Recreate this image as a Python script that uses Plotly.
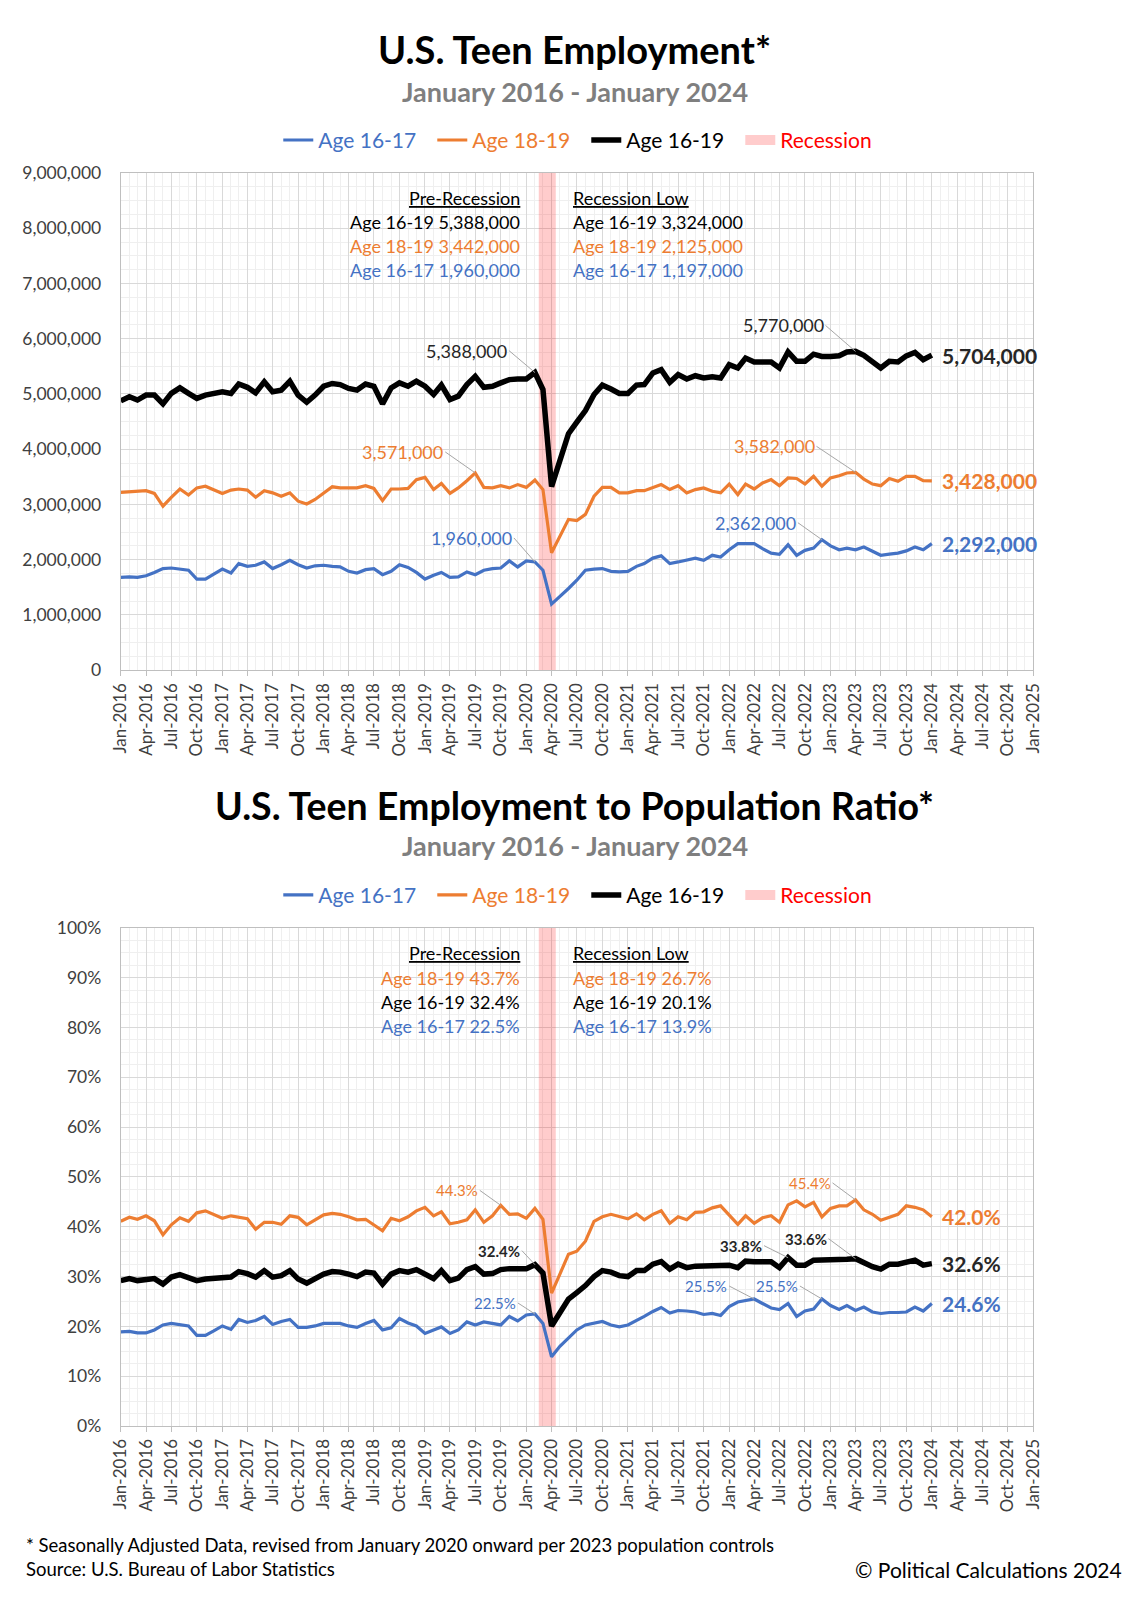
import pandas as pd
import plotly.graph_objects as go

# ---------------- data ----------------
months = pd.date_range("2016-01-01", periods=97, freq="MS")
month_labels = [d.strftime("%b-%Y") for d in months]

# Employment, thousands
emp_16_19 = [4875, 4950, 4890, 4980, 4980, 4820, 5010, 5110, 5010, 4920,
             4980, 5000, 5040, 5010, 5180, 5120, 5020, 5220, 5040, 5070,
             5230, 4980, 4850, 4980, 5140, 5190, 5170, 5100, 5070, 5180,
             5140, 4820, 5110, 5200, 5140, 5230, 5140, 4990, 5160, 4900,
             4960, 5170, 5320, 5120, 5140, 5200, 5260, 5270, 5270,
             5388, 5080, 3324, 3800,
             4280, 4490, 4700, 4990, 5160, 5090, 5010, 5010, 5160, 5170,
             5380, 5440, 5210, 5350, 5270, 5330, 5290, 5310, 5290, 5530,
             5470, 5650, 5580, 5580, 5580, 5470, 5760, 5590, 5590, 5720,
             5680, 5680, 5690, 5760, 5770, 5700, 5590, 5470, 5590, 5580,
             5690, 5750, 5620, 5704]
emp_18_19 = [3220, 3230, 3230, 3250, 3200, 2970, 3130, 3280, 3170, 3300,
             3330, 3270, 3200, 3260, 3280, 3260, 3130, 3250, 3210, 3150,
             3210, 3060, 3010, 3090, 3200, 3320, 3300, 3300, 3300, 3340,
             3290, 3070, 3280, 3280, 3290, 3450, 3490, 3270, 3380, 3200,
             3300, 3430, 3571, 3310, 3300, 3340, 3300, 3360, 3310,
             3442, 3270, 2125,
             2430, 2730, 2710, 2820, 3150, 3310, 3310, 3210, 3210, 3250,
             3250, 3310, 3360, 3270, 3340, 3210, 3270, 3300, 3240, 3210,
             3370, 3180, 3370, 3280, 3390, 3450, 3340, 3480, 3470, 3370,
             3510, 3330, 3480, 3520, 3570, 3582, 3460, 3370, 3340, 3470,
             3420, 3510, 3510, 3430, 3428]
emp_16_17 = [1680, 1690, 1680, 1710, 1770, 1840, 1850, 1830, 1810, 1650,
             1650, 1740, 1830, 1760, 1930, 1880, 1900, 1960, 1840, 1910,
             1990, 1910, 1850, 1890, 1900, 1880, 1870, 1790, 1760, 1820,
             1840, 1730, 1790, 1910, 1860, 1770, 1650, 1720, 1770, 1680,
             1690, 1780, 1730, 1810, 1840, 1850, 1980, 1870, 1980,
             1960, 1810, 1197,
             1330, 1480, 1630, 1810, 1830, 1840, 1790, 1780, 1790, 1880,
             1930, 2030, 2070, 1930, 1960, 1990, 2030, 1990, 2080, 2050,
             2180, 2290, 2290, 2290, 2200, 2120, 2100, 2270, 2080, 2170,
             2210, 2362, 2250, 2180, 2210, 2180, 2230, 2150, 2080, 2100,
             2120, 2160, 2230, 2180, 2292]

# Employment-population ratio, percent
epr_18_19 = [41.1, 41.9, 41.5, 42.2, 41.2, 38.4, 40.4, 41.8, 41.1, 42.8,
             43.2, 42.5, 41.7, 42.2, 41.9, 41.6, 39.5, 40.9, 40.9, 40.5,
             42.2, 41.9, 40.4, 41.4, 42.4, 42.7, 42.5, 42.0, 41.4, 41.5,
             40.4, 39.2, 41.7, 41.2, 42.0, 43.2, 43.9, 42.2, 43.0, 40.6,
             40.9, 41.4, 43.4, 40.9, 42.2, 44.3, 42.5, 42.6, 41.7,
             43.7, 41.5, 26.7,
             30.5, 34.5, 35.1, 37.1, 41.1, 42.0, 42.5, 42.0, 41.6, 42.6,
             41.4, 42.5, 43.2, 40.7, 42.0, 41.4, 42.9, 43.0, 43.8, 44.2,
             42.4, 40.5, 42.2, 40.7, 41.8, 42.2, 40.9, 44.4, 45.2, 44.0,
             44.9, 42.0, 43.7, 44.2, 44.2, 45.4, 43.4, 42.5, 41.3, 41.9,
             42.5, 44.2, 43.9, 43.4, 42.0]
epr_16_19 = [29.2, 29.6, 29.2, 29.5, 29.6, 28.5, 29.9, 30.4, 29.7, 29.2,
             29.5, 29.6, 29.9, 29.9, 31.0, 30.6, 29.9, 31.2, 29.9, 30.2,
             31.2, 29.5, 28.7, 29.6, 30.5, 31.0, 30.9, 30.5, 30.0, 30.9,
             30.7, 28.5, 30.5, 31.2, 30.9, 31.4, 30.6, 29.6, 31.2, 29.2,
             29.7, 31.4, 32.0, 30.5, 30.6, 31.4, 31.6, 31.5, 31.6,
             32.4, 30.7, 20.1,
             22.6, 25.5, 26.8, 28.2, 30.0, 31.2, 30.9, 30.2, 30.0, 31.2,
             31.2, 32.5, 33.0, 31.5, 32.5, 31.8, 32.1, 32.1, 32.1, 32.1,
             32.3, 31.8, 33.1, 33.0, 33.0, 33.0, 31.8, 33.8, 32.3, 32.3,
             33.3, 33.3, 33.3, 33.3, 33.5, 33.6, 32.8, 32.0, 31.5, 32.5,
             32.5, 32.9, 33.3, 32.3, 32.6]
epr_16_17 = [18.9, 19.0, 18.7, 18.7, 19.3, 20.3, 20.6, 20.3, 20.1, 18.2,
             18.2, 19.1, 20.1, 19.4, 21.4, 20.8, 21.2, 22.0, 20.4, 21.0,
             21.4, 19.8, 19.8, 20.1, 20.6, 20.6, 20.6, 20.1, 19.8, 20.6,
             21.2, 19.3, 19.7, 21.6, 20.7, 20.1, 18.6, 19.3, 19.9, 18.6,
             19.3, 20.9, 20.3, 20.9, 20.6, 20.3, 22.0, 21.1, 22.3,
             22.5, 20.6, 13.9,
             16.0, 17.6, 19.3, 20.3, 20.6, 21.0, 20.3, 19.9, 20.3, 21.1,
             22.0, 23.0, 23.8, 22.7, 23.2, 23.1, 22.9, 22.4, 22.6, 22.2,
             24.0, 24.9, 25.2, 25.5, 24.6, 23.7, 23.4, 24.6, 22.0, 23.1,
             23.5, 25.5, 24.2, 23.4, 24.2, 23.2, 23.9, 22.9, 22.6, 22.8,
             22.8, 22.9, 23.9, 23.1, 24.6]

recession_months = ["2020-03-01", "2020-04-01"]
series_names = ["Age 16-17", "Age 18-19", "Age 16-19", "Recession"]
pre_recession_idx = 49   # Feb-2020
recession_low_idx = 51   # Apr-2020

# ---------------- styling ----------------
PAGE_W, PAGE_H = 1148, 1600
BODY_MARGIN = 8                      # default browser body margin
FW, FH = PAGE_W - 2 * BODY_MARGIN, PAGE_H - 2 * BODY_MARGIN
FONT = "Lato"
BLUE, ORANGE, BLACK = "#4472C4", "#ED7D31", "#000000"
REC_COLOR = "rgba(255,0,0,0.2)"
LEADER = "#a6a6a6"
TXT = "#404040"


def px(xp):
    return (xp - BODY_MARGIN) / FW


def py(yp):
    return 1 - (yp - BODY_MARGIN) / FH


x = months
emp = {"16-17": [v * 1000 for v in emp_16_17],
       "18-19": [v * 1000 for v in emp_18_19],
       "16-19": [v * 1000 for v in emp_16_19]}
epr = {"16-17": epr_16_17, "18-19": epr_18_19, "16-19": epr_16_19}
colors = {"16-17": BLUE, "18-19": ORANGE, "16-19": BLACK}
widths = {"16-17": 3.2, "18-19": 3.2, "16-19": 5.5}
rank = {"16-17": 1, "18-19": 2, "16-19": 3}

rec_a, rec_b = pd.Timestamp(recession_months[0]), pd.Timestamp(recession_months[1])
rec_mid = rec_a + (rec_b - rec_a) / 2

fig = go.Figure()

for xa, ya, lg, data, ymax in [("x", "y", "legend", emp, 9_000_000),
                               ("x2", "y2", "legend2", epr, 100)]:
    fig.add_trace(go.Scatter(
        x=[rec_mid, rec_mid], y=[0, ymax], mode="lines",
        line=dict(color=REC_COLOR, width=17),
        name=f"<span style='color:#ff0000'>{series_names[3]}</span>",
        legend=lg, legendrank=4, xaxis=xa, yaxis=ya, hoverinfo="skip"))
    for key, nm in [("16-17", series_names[0]), ("18-19", series_names[1]),
                    ("16-19", series_names[2])]:
        fig.add_trace(go.Scatter(
            x=x, y=data[key], mode="lines",
            line=dict(color=colors[key], width=widths[key]),
            name=f"<span style='color:{colors[key]}'>{nm}</span>",
            legend=lg, legendrank=rank[key], xaxis=xa, yaxis=ya))

xdom = [px(111.7), px(1041.6)]
axis_common = dict(
    showline=True, linecolor="#bfbfbf", linewidth=1, mirror=True,
    showgrid=True, gridcolor="#d9d9d9", gridwidth=1, zeroline=False,
    tickfont=dict(family=FONT, size=17.5, color=TXT),
)
xcommon = dict(axis_common, type="date", range=["2016-01-01", "2025-01-01"],
               dtick="M3", tickformat="%b-%Y", tickangle=-90,
               ticks="outside", ticklen=5, tickcolor="#bfbfbf",
               tickfont=dict(family=FONT, size=17, color=TXT),
               minor=dict(dtick="M1", showgrid=True, gridcolor="#efefef"))

legend_common = dict(orientation="h", x=px(586), xanchor="center", yanchor="middle",
                     font=dict(family=FONT, size=21), itemwidth=30,
                     entrywidth=109, entrywidthmode="pixels",
                     bgcolor="rgba(0,0,0,0)", traceorder="normal")

fig.update_layout(
    width=FW, height=FH, autosize=False,
    margin=dict(l=0, r=0, t=0, b=0),
    paper_bgcolor="white", plot_bgcolor="white",
    font=dict(family=FONT, color=TXT),
    showlegend=True,
    xaxis=dict(xcommon, domain=xdom, anchor="y"),
    xaxis2=dict(xcommon, domain=xdom, anchor="y2"),
    yaxis=dict(axis_common, domain=[py(668), py(164)], anchor="x",
               range=[0, 9_000_000], dtick=1_000_000, tickformat=",d",
               ticklabelstandoff=15,
               minor=dict(dtick=250_000, showgrid=True, gridcolor="#efefef")),
    yaxis2=dict(axis_common, domain=[py(1434), py(929)], anchor="x2",
                range=[0, 100], dtick=10, ticksuffix="%",
                ticklabelstandoff=15,
                minor=dict(dtick=2.5, showgrid=True, gridcolor="#efefef")),
    legend=dict(legend_common, y=py(131)),
    legend2=dict(legend_common, y=py(896)),
)

ann = []


def text_ann(text, xp, yp, size, color, anchor="center", bold=False):
    t = f"<b>{text}</b>" if bold else text
    ann.append(dict(text=t, x=px(xp), y=py(yp), xref="paper", yref="paper",
                    xanchor=anchor, yanchor="middle", showarrow=False,
                    font=dict(family=FONT, size=size, color=color)))


# titles
text_ann("U.S. Teen Employment*", 574, 38, 38, "#000000", bold=True)
text_ann("January 2016 - January 2024", 574, 81.5, 27, "#7f7f7f", bold=True)
text_ann("U.S. Teen Employment to Population Ratio*", 574, 805, 37.5, "#000000", bold=True)
text_ann("January 2016 - January 2024", 574, 846, 27, "#7f7f7f", bold=True)

# footer
text_ann("* Seasonally Adjusted Data, revised from January 2020 onward per 2023 population controls",
         13, 1555, 18.5, "#000000", anchor="left")
text_ann("Source: U.S. Bureau of Labor Statistics", 13, 1579, 18.5, "#000000", anchor="left")
text_ann("© Political Calculations 2024", 1134, 1579, 21, "#000000", anchor="right")


def fmt_emp(v):
    return f"{v:,.0f}"


def fmt_pct(v):
    return f"{v:.1f}%"


# summary blocks
blocks = [
    (emp, fmt_emp, ["16-19", "18-19", "16-17"], [189.5, 213.5, 238, 262.5]),
    (epr, fmt_pct, ["18-19", "16-19", "16-17"], [955, 979.5, 1004.5, 1028.5]),
]
for data, fmt, order, rows in blocks:
    for idx, header, xp, anchor in [(pre_recession_idx, "Pre-Recession", 521, "right"),
                                    (recession_low_idx, "Recession Low", 570, "left")]:
        text_ann(f"<u>{header}</u>", xp, rows[0], 18, "#000000", anchor=anchor)
        for key, yrow in zip(order, rows[1:]):
            text_ann(f"Age {key} {fmt(data[key][idx])}", xp, yrow, 18,
                     colors[key], anchor=anchor)

# callouts with leader lines
callouts = [
    ("x", "y", emp, fmt_emp, "16-19", 49, -26, -22, 18, False),
    ("x", "y", emp, fmt_emp, "16-19", 87, -30, -26, 18, False),
    ("x", "y", emp, fmt_emp, "18-19", 42, -30, -21, 18, False),
    ("x", "y", emp, fmt_emp, "18-19", 87, -39, -26, 18, False),
    ("x", "y", emp, fmt_emp, "16-17", 49, -21, -24, 18, False),
    ("x", "y", emp, fmt_emp, "16-17", 83, -24, -17, 18, False),
    ("x2", "y2", epr, fmt_pct, "18-19", 45, -21, -15, 15, False),
    ("x2", "y2", epr, fmt_pct, "16-19", 49, -13, -14, 15, True),
    ("x2", "y2", epr, fmt_pct, "16-17", 49, -17, -11, 15, False),
    ("x2", "y2", epr, fmt_pct, "18-19", 87, -23, -17, 15, False),
    ("x2", "y2", epr, fmt_pct, "16-19", 79, -24, -12, 15, True),
    ("x2", "y2", epr, fmt_pct, "16-19", 87, -27, -20, 15, True),
    ("x2", "y2", epr, fmt_pct, "16-17", 75, -25, -13, 15, False),
    ("x2", "y2", epr, fmt_pct, "16-17", 83, -22, -13, 15, False),
]
for xa, ya, data, fmt, key, m, dx, dy, size, bold in callouts:
    v = data[key][m]
    t = fmt(v)
    col = "#262626" if key == "16-19" else colors[key]
    ann.append(dict(text=f"<b>{t}</b>" if bold else t, x=x[m], y=v,
                    xref=xa, yref=ya, showarrow=True, arrowhead=0,
                    arrowwidth=1, arrowcolor=LEADER, ax=dx, ay=dy,
                    xanchor="right", yanchor="middle", standoff=0,
                    font=dict(family=FONT, size=size, color=col)))

# end-of-series labels
for xa, ya, data, fmt in [("x", "y", emp, fmt_emp), ("x2", "y2", epr, fmt_pct)]:
    for key in ["16-19", "18-19", "16-17"]:
        v = data[key][-1]
        col = "#262626" if key == "16-19" else colors[key]
        ann.append(dict(text=f"<b>{fmt(v)}</b>", x=x[-1], y=v, xref=xa, yref=ya,
                        xanchor="left", yanchor="middle", xshift=8,
                        showarrow=False, font=dict(family=FONT, size=21, color=col)))

fig.update_layout(annotations=ann)

# white panels behind the summary blocks
for x0, x1, y0, y1 in [(343, 530, 177, 283), (556, 763, 177, 283),
                       (374, 530, 943, 1040), (556, 730, 943, 1040)]:
    fig.add_shape(type="rect", xref="paper", yref="paper",
                  x0=px(x0), x1=px(x1), y0=py(y1), y1=py(y0),
                  fillcolor="white", line=dict(width=0), layer="between")

fig.write_html("out.html", config={"displayModeBar": False})
